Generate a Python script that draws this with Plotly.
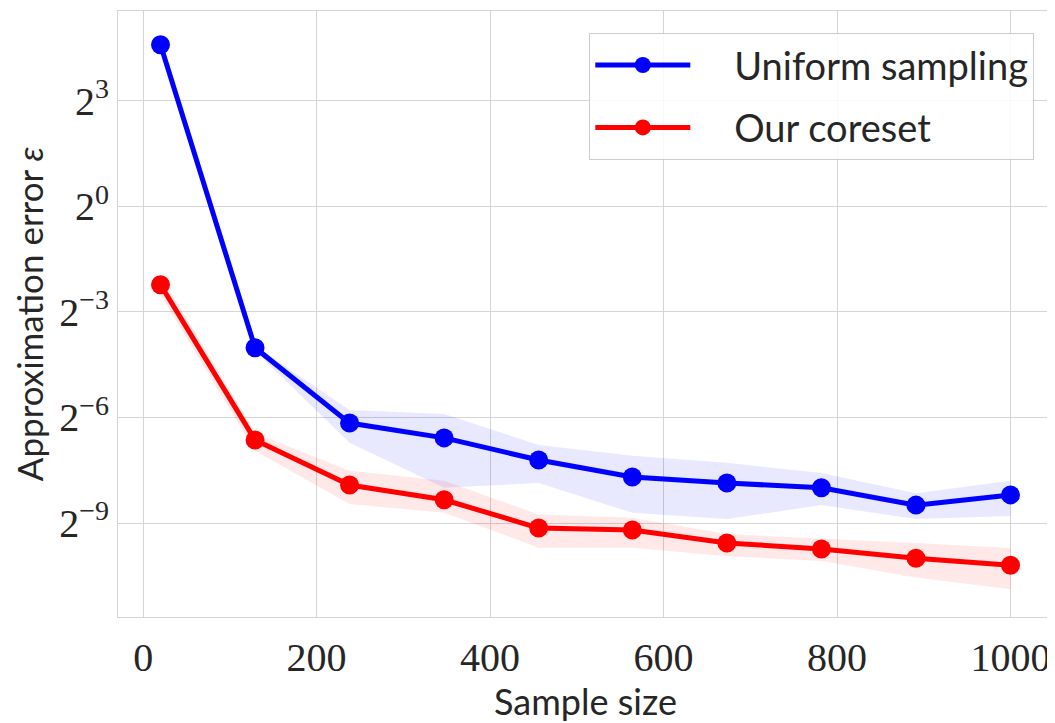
import plotly.graph_objects as go

# Data
sample_size = [20, 129, 238, 347, 456, 564, 673, 782, 891, 1000]

uniform_mean = [24.1, 0.0616, 0.01399, 0.01045, 0.00676, 0.00484, 0.00430, 0.00391, 0.00278, 0.00340]
uniform_upper = [24.9, 0.0638, 0.01806, 0.01675, 0.00909, 0.00734, 0.00639, 0.00523, 0.00352, 0.00449]
uniform_lower = [23.3, 0.0579, 0.00949, 0.00391, 0.00430, 0.00239, 0.00211, 0.00278, 0.00211, 0.00224]

coreset_mean = [0.2133, 0.01003, 0.00413, 0.00309, 0.00177, 0.00170, 0.00132, 0.00117, 0.000977, 0.000850]
coreset_upper = [0.2588, 0.01152, 0.00546, 0.00449, 0.00231, 0.00217, 0.001575, 0.001451, 0.00132, 0.001194]
coreset_lower = [0.1744, 0.00809, 0.00284, 0.00239, 0.001203, 0.001203, 0.001016, 0.000924, 0.000667, 0.000530]

y_tick_vals = [2**3, 2**0, 2**-3, 2**-6, 2**-9]
y_tick_text = ["2<sup>3</sup>", "2<sup>0</sup>", "2<sup>−3</sup>", "2<sup>−6</sup>", "2<sup>−9</sup>"]
x_tick_vals = [0, 200, 400, 600, 800, 1000]

series_names = ["Uniform sampling", "Our coreset"]

SANS = "Lato, 'Open Sans', sans-serif"
SERIF = "'Liberation Serif', 'DejaVu Serif', serif"
TXT = "#262626"
GRID = "#d5d5d5"
PAD = "\u00a0\u00a0\u00a0\u00a0"

fig = go.Figure()

def add_band(x, lo, hi, color):
    fig.add_trace(go.Scatter(
        x=list(x) + list(x)[::-1],
        y=list(hi) + list(lo)[::-1],
        fill="toself", fillcolor=color,
        line=dict(width=0), mode="lines",
        showlegend=False, hoverinfo="skip"))

add_band(sample_size, uniform_lower, uniform_upper, "rgba(0,0,255,0.09)")
add_band(sample_size, coreset_lower, coreset_upper, "rgba(255,0,0,0.09)")

fig.add_trace(go.Scatter(
    x=sample_size, y=uniform_mean, name=PAD + series_names[0], legendgroup="a",
    mode="lines+markers", line=dict(color="#0000ff", width=5),
    marker=dict(color="#0000ff", size=19)))
fig.add_trace(go.Scatter(
    x=sample_size, y=coreset_mean, name=PAD + series_names[1], legendgroup="b",
    mode="lines+markers", line=dict(color="#ff0000", width=5),
    marker=dict(color="#ff0000", size=19)))

# page body has an 8px default margin, so the figure is 8px smaller
fig.update_layout(
    width=1047, height=715,
    margin=dict(l=110, r=2, t=3, b=106),
    paper_bgcolor="white", plot_bgcolor="white",
    showlegend=True,
    legend=dict(
        x=0.98, y=0.964, xanchor="right", yanchor="top",
        bgcolor="rgba(255,255,255,0.85)", bordercolor="#cccccc", borderwidth=1,
        font=dict(family=SANS, size=38, color=TXT),
        itemwidth=95, tracegroupgap=10, traceorder="grouped"),
    xaxis=dict(
        range=[-29, 1049], tickvals=x_tick_vals, automargin=False,
        showgrid=True, gridcolor=GRID, gridwidth=1, zeroline=False,
        showline=True, linecolor=GRID, linewidth=1, mirror=True,
        ticks="", ticklabelstandoff=5, tickfont=dict(family=SERIF, size=40, color=TXT),
        title=dict(text="Sample size", font=dict(family=SANS, size=36, color=TXT), standoff=0)),
    yaxis=dict(
        type="log", range=[-3.513, 1.671], automargin=False,
        tickvals=y_tick_vals, ticktext=y_tick_text,
        showgrid=True, gridcolor=GRID, gridwidth=1, zeroline=False,
        showline=True, linecolor=GRID, linewidth=1, mirror=True,
        ticks="", tickfont=dict(family=SERIF, size=40, color=TXT),
        title=dict(text="Approximation error <i>ε</i>", font=dict(family=SANS, size=35, color=TXT), standoff=8)),
)

fig.write_html("out.html")
